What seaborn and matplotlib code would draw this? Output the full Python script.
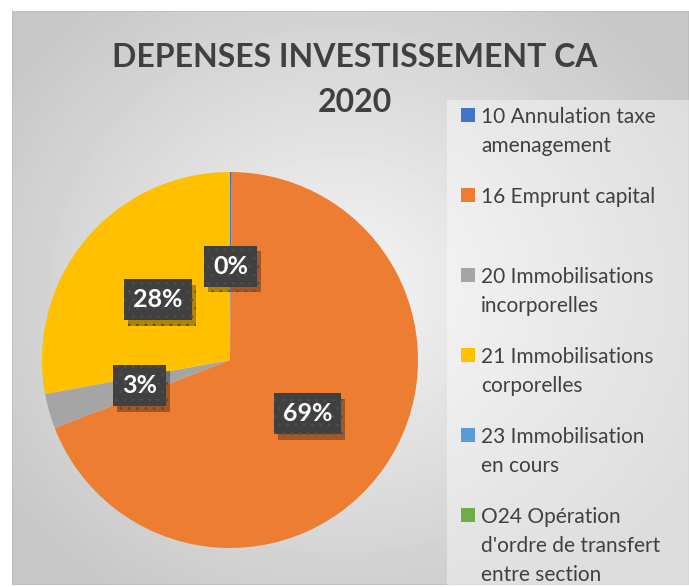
import numpy as np
import matplotlib
matplotlib.use("Agg")
import matplotlib.pyplot as plt
import matplotlib.patheffects as pe
from matplotlib.patches import Rectangle
import seaborn as sns

# --- data ---
title_lines = ["DEPENSES INVESTISSEMENT CA", "2020"]
categories = [
    "10 Annulation taxe\namenagement",
    "16 Emprunt capital",
    "20 Immobilisations\nincorporelles",
    "21 Immobilisations\ncorporelles",
    "23 Immobilisation\nen cours",
    "O24 Opération\nd'ordre de transfert\nentre section",
]
shares = [0.15, 68.95, 3.0, 27.9, 0.0, 0.0]
colors = ["#4472C4", "#ED7D31", "#A5A5A5", "#FFC000", "#5B9BD5", "#70AD47"]

W, H = 689, 587
TXT = "#404040"

sns.set_style("white")
plt.rcParams["font.family"] = ["Lato", "DejaVu Sans"]
plt.rcParams["hatch.color"] = "#4e4e4e"
plt.rcParams["hatch.linewidth"] = 0.8

fig = plt.figure(figsize=(W / 100, H / 100), dpi=100)
fig.patch.set_facecolor("white")


def fx(x):
    return x / W


def fy(y):
    return 1 - y / H


# background: radial grey gradient of the chart area
bg = fig.add_axes([fx(12), fy(585), fx(689) - fx(12), fy(11) - fy(585)])
yy, xx = np.mgrid[11:585, 12:689]
d = np.hypot((xx - 340) / 430, (yy - 290) / 390)
shade = np.clip(0.96 - 0.19 * d, 0.78, 0.96)
bg.imshow(shade, cmap="gray", vmin=0, vmax=1, aspect="auto", interpolation="bilinear")
bg.set_axis_off()
bg.add_patch(Rectangle((-0.5, -0.5), shade.shape[1], shade.shape[0], fill=False,
                       edgecolor="#bdbdbd", lw=1.2))

# legend panel (slightly lighter)
fig.patches.append(Rectangle((fx(447), fy(587)), fx(689) - fx(447), fy(100) - fy(587),
                             transform=fig.transFigure, facecolor="white", alpha=0.4,
                             edgecolor="none", zorder=1))

# pie
cx, cy, r = 230, 360, 188
ax = fig.add_axes([fx(cx - r), fy(cy + r), 2 * r / W, 2 * r / H])
ax.set_facecolor("none")
wedges, _, autotexts = ax.pie(
    shares, colors=colors, startangle=90, counterclock=False,
    autopct=lambda p: f"{p:.0f}%" if p > 0 else "", pctdistance=0.5,
    wedgeprops=dict(linewidth=0),
    textprops=dict(color="white", fontsize=18, fontweight="bold"),
)
for t in autotexts:
    if not t.get_text():
        continue
    t.set_bbox(dict(boxstyle="square,pad=0.36", facecolor="#404040", edgecolor="#4e4e4e",
                    linewidth=0, hatch=".."))
    t.get_bbox_patch().set_path_effects([pe.SimplePatchShadow(offset=(3, -4), alpha=0.35),
                                         pe.Normal()])
ax.set_xlim(-1, 1)
ax.set_ylim(-1, 1)
ax.set_aspect("equal")

# title
for j, line in enumerate(title_lines):
    fig.text(fx(355), fy(67 + 45 * j), line, ha="center", va="baseline", fontsize=23,
             fontweight="bold", color=TXT)

# legend
for i, (lab, col) in enumerate(zip(categories, colors)):
    base = 123 + 80 * i
    fig.patches.append(Rectangle((fx(461), fy(base - 1)), 14 / W, 14 / H,
                                 transform=fig.transFigure, facecolor=col,
                                 edgecolor="none", zorder=3))
    for j, line in enumerate(lab.split("\n")):
        fig.text(fx(481), fy(base + 29 * j), line, ha="left", va="baseline",
                 fontsize=15, color=TXT)

fig.savefig("out.png", dpi=100)
